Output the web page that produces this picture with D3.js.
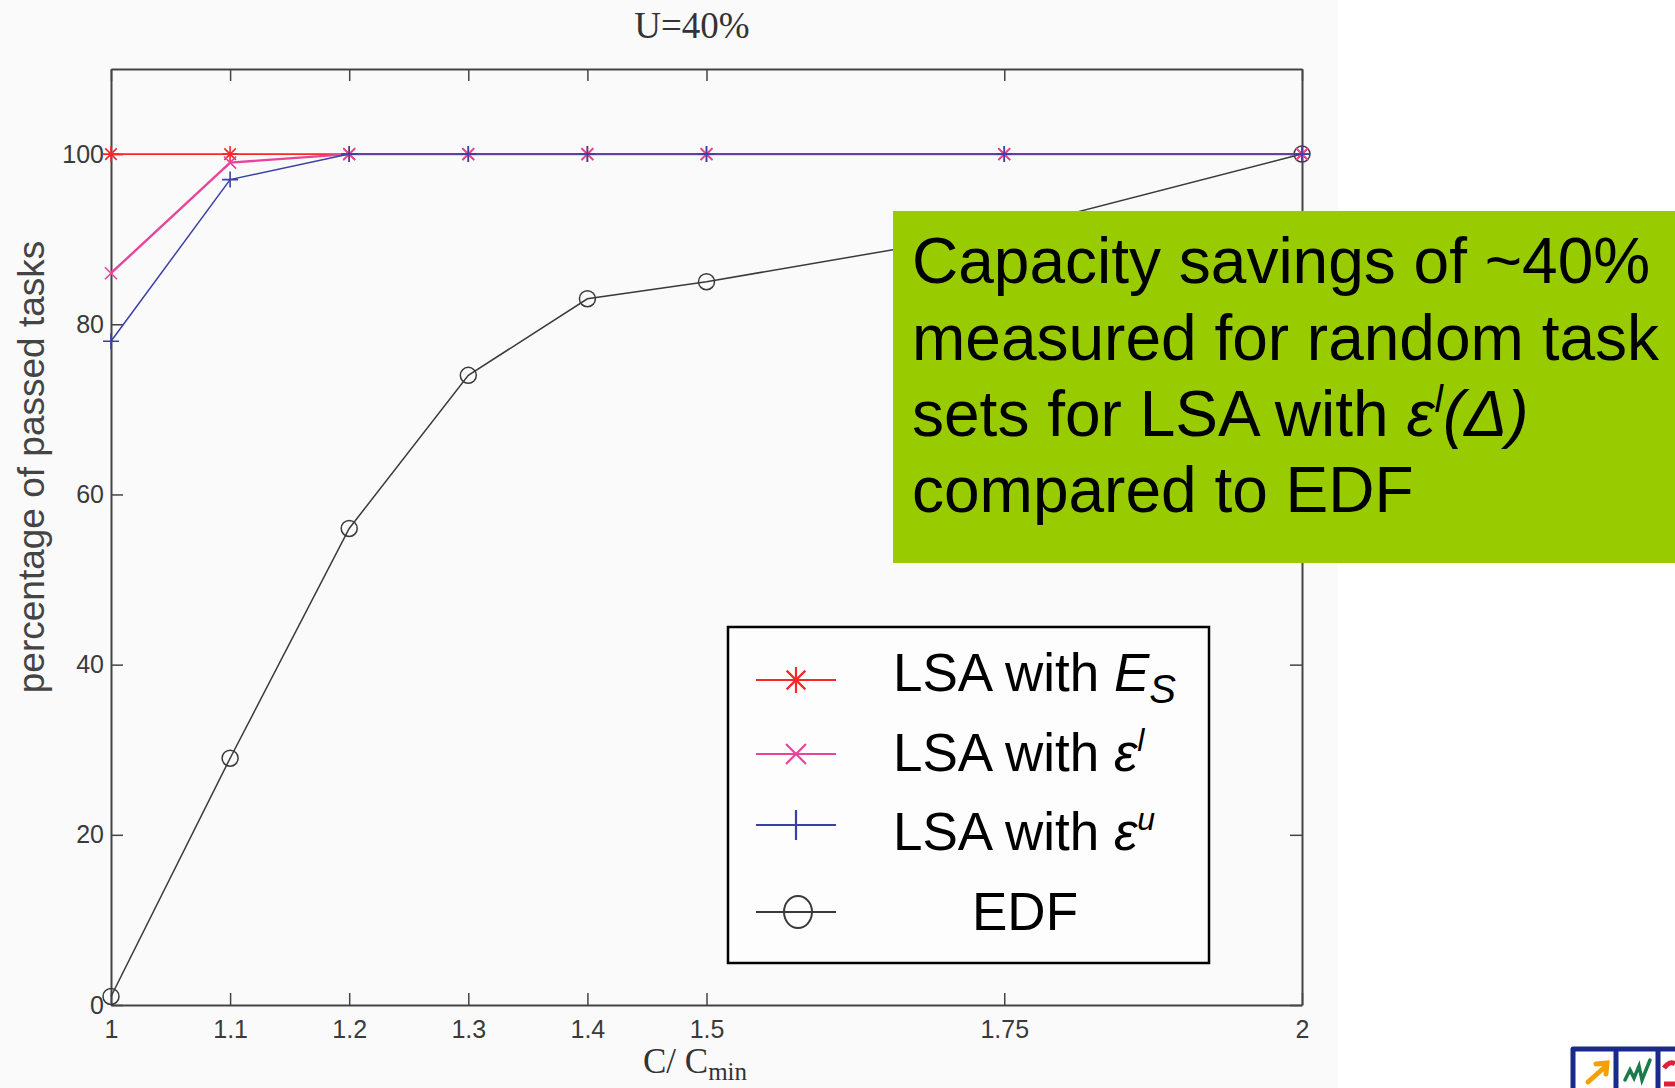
<!DOCTYPE html>
<html><head><meta charset="utf-8">
<script src="https://cdn.jsdelivr.net/npm/d3@7"></script>
<style>body{margin:0;background:#fff}svg{display:block}</style>
</head><body>
<script>
// ---- data ----
const xValues = [1, 1.1, 1.2, 1.3, 1.4, 1.5, 1.75, 2];
const xTickLabels = ["1", "1.1", "1.2", "1.3", "1.4", "1.5", "1.75", "2"];
const yTicks = [0, 20, 40, 60, 80, 100];
const lsaEs = [100, 100, 100, 100, 100, 100, 100, 100];
const lsaEl = [86, 99, 100, 100, 100, 100, 100, 100];
const lsaEu = [78, 97, 100, 100, 100, 100, 100, 100];
const edf   = [1, 29, 56, 74, 83, 85, 91, 100];
const titleText = "U=40%";
const yLabel = "percentage of passed tasks";
const noteLines = ["Capacity savings of ~40%", "measured for random task", "sets for LSA with ", "compared to EDF"];

const W = 1675, H = 1088;
const svg = d3.select("body").append("svg").attr("width", W).attr("height", H);
svg.append("rect").attr("width", W).attr("height", H).attr("fill", "#ffffff");
svg.append("rect").attr("width", 1338).attr("height", H).attr("fill", "#fafafa");

const L = 111, R = 1302, T = 69, B = 1005;
const x = d3.scaleLinear().domain([1, 2]).range([L, R]);
const y = d3.scaleLinear().domain([0, 110]).range([B, T]);

const axisColor = "#444";
const tickFont = "Liberation Sans, Arial, sans-serif";

// axes
const gx = svg.append("g").attr("transform", `translate(0,${B})`)
  .call(d3.axisBottom(x).tickValues(xValues).tickFormat((d, i) => xTickLabels[i])
    .tickSizeInner(-12).tickSizeOuter(0).tickPadding(15));
const gy = svg.append("g").attr("transform", `translate(${L},0)`)
  .call(d3.axisLeft(y).tickValues(yTicks).tickSizeInner(-12).tickSizeOuter(0).tickPadding(7));
const gt = svg.append("g").attr("transform", `translate(0,${T})`)
  .call(d3.axisTop(x).tickValues(xValues).tickFormat("").tickSizeInner(-12).tickSizeOuter(0));
const gr = svg.append("g").attr("transform", `translate(${R},0)`)
  .call(d3.axisRight(y).tickValues(yTicks).tickFormat("").tickSizeInner(-12).tickSizeOuter(0));
[gx, gy, gt, gr].forEach(g => {
  g.selectAll("path.domain").attr("stroke", axisColor).attr("stroke-width", 2);
  g.selectAll(".tick line").attr("stroke", axisColor).attr("stroke-width", 1.5);
  g.selectAll(".tick text").attr("fill", "#3a3a3a").attr("font-family", tickFont).attr("font-size", 25);
});

// title
svg.append("text").attr("x", 692).attr("y", 38).attr("text-anchor", "middle")
  .attr("font-family", "Liberation Serif, Times New Roman, serif").attr("font-size", 37)
  .attr("fill", "#333").text(titleText);

// y label
svg.append("text").attr("transform", `translate(44,467) rotate(-90)`).attr("text-anchor", "middle")
  .attr("font-family", tickFont).attr("font-size", 37).attr("fill", "#444").text(yLabel);

// x label
const xl = svg.append("text").attr("x", 643).attr("y", 1073)
  .attr("font-family", "Liberation Serif, Times New Roman, serif").attr("font-size", 35).attr("fill", "#333");
xl.append("tspan").text("C/ C");
xl.append("tspan").attr("font-size", 25).attr("dy", 7).text("min");

// markers
function markerPath(type, r) {
  const d = r * 0.72;
  if (type === "star") return `M0,${-r}V${r}M${-r},0H${r}M${-d},${-d}L${d},${d}M${-d},${d}L${d},${-d}`;
  if (type === "x") return `M${-r},${-r}L${r},${r}M${-r},${r}L${r},${-r}`;
  if (type === "plus") return `M0,${-r}V${r}M${-r},0H${r}`;
  return "";
}

const series = [
  { values: edf,   color: "#3a3a3a", marker: "circle", width: 1.5 },
  { values: lsaEs, color: "#f42a2a", marker: "star",   width: 1.8 },
  { values: lsaEl, color: "#e8449c", marker: "x",      width: 2.4 },
  { values: lsaEu, color: "#3a40a8", marker: "plus",   width: 1.5 },
];
const line = d3.line().x((d, i) => x(xValues[i])).y(d => y(d));
series.forEach(s => {
  svg.append("path").attr("d", line(s.values)).attr("fill", "none")
    .attr("stroke", s.color).attr("stroke-width", s.width);
  const g = svg.append("g");
  s.values.forEach((v, i) => {
    if (s.marker === "circle") {
      g.append("circle").attr("cx", x(xValues[i])).attr("cy", y(v)).attr("r", 8)
        .attr("fill", "none").attr("stroke", s.color).attr("stroke-width", 1.5);
    } else {
      g.append("path").attr("transform", `translate(${x(xValues[i])},${y(v)})`)
        .attr("d", markerPath(s.marker, s.marker === "x" ? 6 : 8))
        .attr("stroke", s.color).attr("stroke-width", 1.6).attr("fill", "none");
    }
  });
});

// green note box
svg.append("rect").attr("x", 893).attr("y", 211).attr("width", W - 893).attr("height", 352).attr("fill", "#99cc00");
const noteFont = "Liberation Sans, Arial, sans-serif";
const noteBase = [283, 360, 436, 512];
noteLines.forEach((t, i) => {
  const tx = svg.append("text").attr("x", 912).attr("y", noteBase[i])
    .attr("font-family", noteFont).attr("font-size", 64).attr("fill", "#000");
  tx.append("tspan").text(t);
  if (i === 2) {
    tx.append("tspan").attr("font-style", "italic").text("ε");
    tx.append("tspan").attr("font-style", "italic").attr("font-size", 38).attr("dy", -24).text("l");
    tx.append("tspan").attr("font-style", "italic").attr("dy", 24).text("(Δ)");
  }
});

// legend
svg.append("rect").attr("x", 728).attr("y", 627).attr("width", 481).attr("height", 336)
  .attr("fill", "#fdfdfd").attr("stroke", "#000").attr("stroke-width", 2.5);
const legRows = [
  { s: series[1], ly: 680, r: 13 },
  { s: series[2], ly: 754, r: 10 },
  { s: series[3], ly: 825, r: 15 },
  { s: series[0], ly: 912, r: 15 },
];
legRows.forEach(row => {
  svg.append("line").attr("x1", 756).attr("x2", 836).attr("y1", row.ly).attr("y2", row.ly)
    .attr("stroke", row.s.color).attr("stroke-width", 2.2);
  if (row.s.marker === "circle") {
    svg.append("ellipse").attr("cx", 798).attr("cy", row.ly).attr("rx", 14).attr("ry", 16)
      .attr("fill", "none").attr("stroke", row.s.color).attr("stroke-width", 2);
  } else {
    svg.append("path").attr("transform", `translate(796,${row.ly})`).attr("d", markerPath(row.s.marker, row.r))
      .attr("stroke", row.s.color).attr("stroke-width", 2.2).attr("fill", "none");
  }
});
const legFont = "Liberation Sans, Arial, sans-serif";
function legText(yb) {
  return svg.append("text").attr("x", 893).attr("y", yb).attr("font-family", legFont)
    .attr("font-size", 53).attr("fill", "#000");
}
let t1 = legText(691);
t1.append("tspan").text("LSA with ");
t1.append("tspan").attr("font-style", "italic").text("E");
t1.append("tspan").attr("font-style", "italic").attr("font-size", 40).attr("dy", 12).text("S");
let t2 = legText(771);
t2.append("tspan").text("LSA with ");
t2.append("tspan").attr("font-style", "italic").text("ε");
t2.append("tspan").attr("font-style", "italic").attr("font-size", 32).attr("dy", -20).text("l");
let t3 = legText(850);
t3.append("tspan").text("LSA with ");
t3.append("tspan").attr("font-style", "italic").text("ε");
t3.append("tspan").attr("font-style", "italic").attr("font-size", 32).attr("dy", -20).text("u");
svg.append("text").attr("x", 1025).attr("y", 930).attr("text-anchor", "middle")
  .attr("font-family", legFont).attr("font-size", 53).attr("fill", "#000").text("EDF");

// logo (partial, bottom right)
const lg = svg.append("g");
lg.append("path").attr("d", "M1573,1088V1049H1680M1616,1049V1088M1658,1049V1088")
  .attr("fill", "none").attr("stroke", "#1a2a8c").attr("stroke-width", 5).attr("stroke-linejoin", "round");
lg.append("path").attr("d", "M1588,1082L1606,1066M1596,1064L1607,1063L1606,1074")
  .attr("fill", "none").attr("stroke", "#f4a000").attr("stroke-width", 5).attr("stroke-linecap", "round");
lg.append("path").attr("d", "M1625,1080L1630,1070L1634,1078L1639,1066L1642,1080L1650,1060")
  .attr("fill", "none").attr("stroke", "#1a7a4a").attr("stroke-width", 3.5).attr("stroke-linecap", "round");
lg.append("path").attr("d", "M1664,1068Q1670,1060 1675,1064M1664,1084H1675")
  .attr("fill", "none").attr("stroke", "#e0203a").attr("stroke-width", 5);
</script>
</body></html>
